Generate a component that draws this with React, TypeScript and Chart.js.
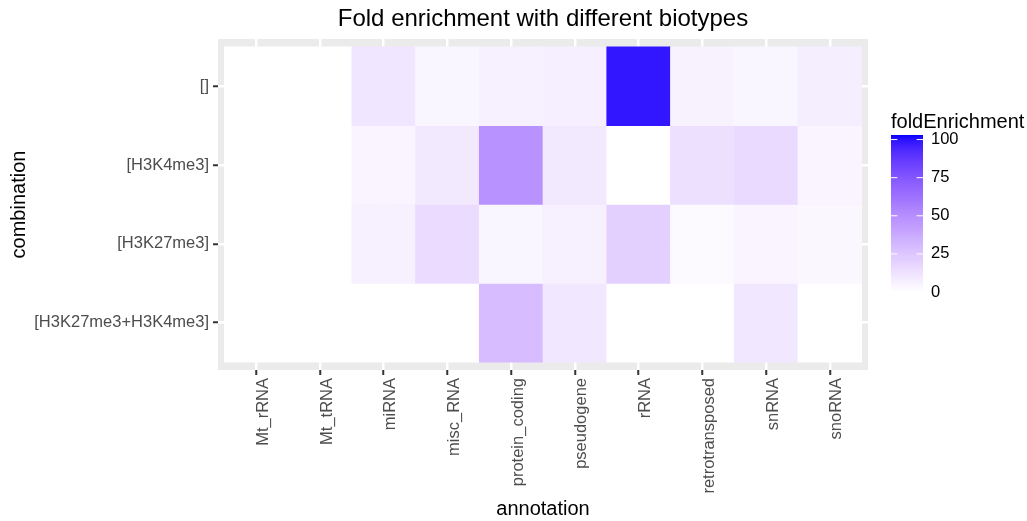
import React, { useEffect, useRef } from "react";
import { Chart, registerables } from "chart.js";

Chart.register(...registerables);

// ---------- data ----------
const annotations = [
  "Mt_rRNA",
  "Mt_tRNA",
  "miRNA",
  "misc_RNA",
  "protein_coding",
  "pseudogene",
  "rRNA",
  "retrotransposed",
  "snRNA",
  "snoRNA",
];
const combinations = ["[]", "[H3K4me3]", "[H3K27me3]", "[H3K27me3+H3K4me3]"];

const foldNone = [0, 0, 11, 4, 6, 7, 99, 5.5, 4, 7.5];
const foldH3K4me3 = [0, 0, 5, 9.5, 48.5, 9.5, 0, 13.5, 16, 5];
const foldH3K27me3 = [0, 0, 6.5, 15.5, 4, 6, 20.5, 2.5, 5, 3.5];
const foldBoth = [0, 0, 0, 0, 29, 10.5, 0, 0, 10.5, 0];
const rows = [foldNone, foldH3K4me3, foldH3K27me3, foldBoth];

const legendTicks = [0, 25, 50, 75, 100];
const colourMin = 0;
const colourMax = 103;

// ---------- colour scale (Lab interpolation white -> blue, like ggplot) ----------
function toLin(c: number) {
  c /= 255;
  return c <= 0.04045 ? c / 12.92 : Math.pow((c + 0.055) / 1.055, 2.4);
}
function fromLin(c: number) {
  const v = c <= 0.0031308 ? 12.92 * c : 1.055 * Math.pow(c, 1 / 2.4) - 0.055;
  return Math.max(0, Math.min(255, Math.round(v * 255)));
}
const Xn = 0.95047, Yn = 1.0, Zn = 1.08883;
function rgbToLab(r: number, g: number, b: number) {
  const R = toLin(r), G = toLin(g), B = toLin(b);
  const X = 0.4124 * R + 0.3576 * G + 0.1805 * B;
  const Y = 0.2126 * R + 0.7152 * G + 0.0722 * B;
  const Z = 0.0193 * R + 0.1192 * G + 0.9505 * B;
  const f = (t: number) => (t > 0.008856 ? Math.cbrt(t) : 7.787 * t + 16 / 116);
  const fx = f(X / Xn), fy = f(Y / Yn), fz = f(Z / Zn);
  return [116 * fy - 16, 500 * (fx - fy), 200 * (fy - fz)];
}
function labToRgb(L: number, a: number, b: number) {
  const fy = (L + 16) / 116;
  const fx = fy + a / 500;
  const fz = fy - b / 200;
  const fi = (t: number) => (t * t * t > 0.008856 ? t * t * t : (t - 16 / 116) / 7.787);
  const X = Xn * fi(fx), Y = Yn * fi(fy), Z = Zn * fi(fz);
  const R = 3.2406 * X - 1.5372 * Y - 0.4986 * Z;
  const G = -0.9689 * X + 1.8758 * Y + 0.0415 * Z;
  const B = 0.0557 * X - 0.204 * Y + 1.057 * Z;
  return `rgb(${fromLin(R)},${fromLin(G)},${fromLin(B)})`;
}
const labLow = rgbToLab(255, 255, 255);
const labHigh = rgbToLab(0, 0, 255);
function colourFor(v: number) {
  const t = Math.max(0, Math.min(1, (v - colourMin) / (colourMax - colourMin)));
  return labToRgb(
    labLow[0] + (labHigh[0] - labLow[0]) * t,
    labLow[1] + (labHigh[1] - labLow[1]) * t,
    labLow[2] + (labHigh[2] - labLow[2]) * t
  );
}

const FONT = "'Liberation Sans', Arial, Helvetica, sans-serif";

// panel background plugin
const panelBg = {
  id: "panelBg",
  beforeDraw(chart: any) {
    const { ctx, chartArea } = chart;
    ctx.save();
    ctx.fillStyle = "#EBEBEB";
    ctx.fillRect(chartArea.left, chartArea.top, chartArea.right - chartArea.left, chartArea.bottom - chartArea.top);
    ctx.restore();
  },
};

// colourbar legend plugin
const colourBar = {
  id: "colourBar",
  afterDraw(chart: any) {
    const ctx = chart.ctx;
    const x0 = 891, x1 = 923, top = 135, bottom = 292;
    ctx.save();
    const steps = bottom - top;
    for (let i = 0; i < steps; i++) {
      const y = bottom - i - 1;
      const v = colourMin + ((i + 0.5) / steps) * (colourMax - colourMin);
      ctx.fillStyle = colourFor(v);
      ctx.fillRect(x0, y, x1 - x0, 1.02);
    }
    const w = x1 - x0;
    ctx.strokeStyle = "#FFFFFF";
    ctx.lineWidth = 1;
    ctx.fillStyle = "#000000";
    ctx.font = `16.5px ${FONT}`;
    ctx.textBaseline = "middle";
    ctx.textAlign = "left";
    legendTicks.forEach((t) => {
      const y = bottom - ((t - colourMin) / (colourMax - colourMin)) * (bottom - top);
      ctx.beginPath();
      ctx.moveTo(x0, y);
      ctx.lineTo(x0 + w / 5, y);
      ctx.moveTo(x1 - w / 5, y);
      ctx.lineTo(x1, y);
      ctx.stroke();
      ctx.fillText(String(t), 931, y);
    });
    ctx.font = `20px ${FONT}`;
    ctx.textBaseline = "alphabetic";
    ctx.fillText("foldEnrichment", 891, 128);
    ctx.restore();
  },
};

export default function App() {
  const ref = useRef<HTMLCanvasElement | null>(null);

  useEffect(() => {
    document.body.style.margin = "0";
    const canvas = ref.current;
    if (!canvas) return;

    const datasets = rows.map((vals, r) => ({
      label: combinations[r],
      data: vals.map((v, i) => ({ x: i, y: [r - 0.5, r + 0.5] })),
      backgroundColor: vals.map((v) => colourFor(v)),
      borderWidth: 0,
      barPercentage: 1,
      categoryPercentage: 1,
      grouped: false,
    }));

    const chart = new Chart(canvas, {
      type: "bar",
      data: { datasets: datasets as any },
      plugins: [panelBg, colourBar],
      options: {
        animation: false,
        responsive: false,
        devicePixelRatio: 1,
        layout: { padding: { left: 0, top: 0, right: 159, bottom: 0 } },
        plugins: {
          legend: { display: false },
          tooltip: { enabled: false },
          title: {
            display: true,
            text: "Fold enrichment with different biotypes",
            fullSize: false,
            color: "#000000",
            font: { family: FONT, size: 24, weight: "normal", lineHeight: 1.2 },
            padding: { top: 5, bottom: 5.2 },
          },
        },
        scales: {
          x: {
            type: "linear",
            offset: false,
            min: -0.6,
            max: 9.6,
            afterBuildTicks: (scale: any) => {
              scale.ticks = annotations.map((_, i) => ({ value: i }));
            },
            afterFit: (scale: any) => {
              scale.height = 151;
            },
            ticks: {
              autoSkip: false,
              maxRotation: 90,
              minRotation: 90,
              padding: 3,
              labelOffset: 7,
              color: "#4D4D4D",
              font: { family: FONT, size: 16.5 },
              callback: (value: any) => annotations[value as number] ?? "",
            },
            grid: {
              offset: false,
              color: "#FFFFFF",
              lineWidth: 2.5,
              drawTicks: true,
              tickLength: 5,
              tickColor: "#333333",
              tickWidth: 2,
            },
            border: { display: false },
            title: {
              display: true,
              text: "annotation",
              color: "#000000",
              font: { family: FONT, size: 20, lineHeight: 1.2 },
              padding: { top: 0, bottom: 0 },
            },
          },
          y: {
            type: "linear",
            reverse: true,
            min: -0.6,
            max: 3.6,
            afterBuildTicks: (scale: any) => {
              scale.ticks = combinations.map((_, i) => ({ value: i }));
            },
            afterFit: (scale: any) => {
              scale.width = 218;
            },
            ticks: {
              autoSkip: false,
              padding: 4,
              color: "#4D4D4D",
              font: { family: FONT, size: 16.5 },
              callback: (value: any) => combinations[value as number] ?? "",
            },
            grid: {
              offset: false,
              color: "#FFFFFF",
              lineWidth: 2.5,
              drawTicks: true,
              tickLength: 5,
              tickColor: "#333333",
              tickWidth: 2,
            },
            border: { display: false },
            title: {
              display: true,
              text: "combination",
              color: "#000000",
              font: { family: FONT, size: 20, lineHeight: 1.2 },
              padding: { top: 7, bottom: 0 },
            },
          },
        },
      },
    } as any);

    return () => chart.destroy();
  }, []);

  return (
    <div style={{ width: 1027, height: 521, position: "relative" }}>
      <canvas ref={ref} width={1027} height={521} style={{ display: "block" }} />
    </div>
  );
}
